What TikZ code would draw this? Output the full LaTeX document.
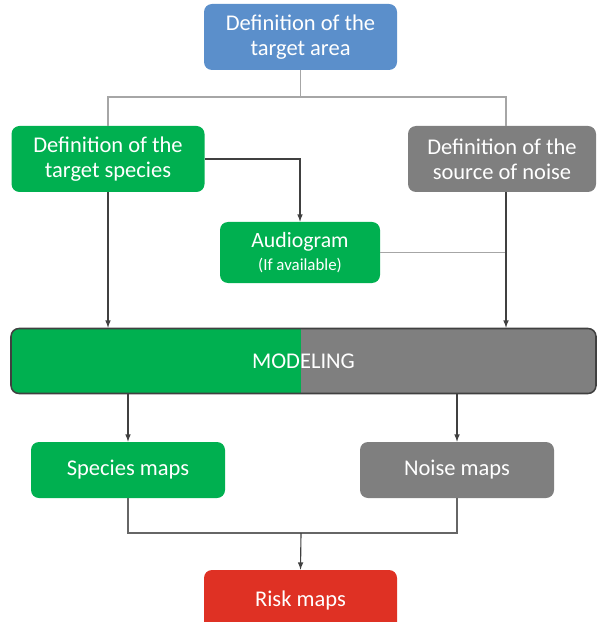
\documentclass[tikz,border=0pt]{standalone}
\usepackage{fontspec}
\setmainfont{Carlito}
\usetikzlibrary{calc}
\definecolor{areaBlue}{HTML}{5B8FCB}
\definecolor{specGreen}{HTML}{00B050}
\definecolor{noiseGray}{HTML}{7F7F7F}
\definecolor{riskRed}{HTML}{DF3124}
\definecolor{treeGray}{HTML}{A6A6A6}
\newcommand\pxu{0.025cm}
\newcommand\boxW{193}
\newcommand\boxH{66}
\newcommand\mapH{56}

\begin{document}
\begin{tikzpicture}[x=\pxu, y=-\pxu,
    stepbox/.style={rounded corners=8*\pxu, text=white, align=center, inner sep=0pt,
      font=\fontsize{16}{17.7}\selectfont, minimum width=\boxW*\pxu, minimum height=\boxH*\pxu},
    tree/.style={treeGray, line width=1.1pt},
    flow/.style={black!75, line width=0.8pt, -latex}]
    \useasboundingbox (0,0) rectangle (597,622);

    %% top of the tree
    \node[stepbox, fill=areaBlue] (area) at (300.5,37) {Definition of the\\target area};
    \node[stepbox, fill=specGreen] (species) at (108,159) {Definition of the\\target species};
    \node[stepbox, fill=noiseGray, minimum width=188*\pxu] (source) at (502,159) {Definition of the\\source of noise};
    \node[stepbox, fill=specGreen, minimum width=160*\pxu, minimum height=61*\pxu] (audio) at (300,252.5)
      {\fontsize{15.5}{17}\selectfont Audiogram\\[-1pt]{\fontsize{12}{13}\selectfont (If available)}};

    \coordinate (fork) at (300.5,97);
    \coordinate (srcX) at (506,0);
    \draw[tree] (area.south) -- (fork);
    \draw[tree] (species.north) |- (fork) -| (srcX |- source.north);

    %% modelling bar, split in two colours
    \node[draw=black!75, line width=1.1pt, rounded corners=8*\pxu, text=white,
      minimum width=585*\pxu, minimum height=65*\pxu, inner sep=0pt,
      font=\fontsize{16}{17.7}\selectfont,
      path picture={
        \fill[specGreen, sharp corners] ($(path picture bounding box.south west)+(-5,5)$) rectangle ($(path picture bounding box.north)+(-2.5,-5)$);
        \fill[noiseGray, sharp corners] ($(path picture bounding box.north east)+(5,-5)$) rectangle ($(path picture bounding box.south)+(-2.5,5)$);
      }] (model) at (303.5,361) {MODELING};

    \draw[flow] (species.east) -| (audio.north);
    \draw[tree] (audio.east) -- (audio.east -| srcX);
    \draw[flow] (species.south) -- (species.south |- model.north);
    \draw[flow] (srcX |- source.south) -- (srcX |- model.north);

    %% maps
    \node[stepbox, fill=specGreen, minimum width=194*\pxu, minimum height=\mapH*\pxu] (spmap) at (128,470) {Species maps};
    \node[stepbox, fill=noiseGray, minimum width=194*\pxu, minimum height=\mapH*\pxu] (nsmap) at (457,470) {Noise maps};
    \node[stepbox, fill=riskRed, minimum height=60*\pxu] (risk) at (300.5,600) {Risk maps};

    \draw[flow] (spmap.north |- model.south) -- (spmap.north);
    \draw[flow] (nsmap.north |- model.south) -- (nsmap.north);

    \coordinate (join) at (301,533);
    \draw[black!60, line width=0.9pt] (spmap.south) |- (join) -| (nsmap.south);
    \draw[flow] (join) -- (risk.north);
\end{tikzpicture}
\end{document}
